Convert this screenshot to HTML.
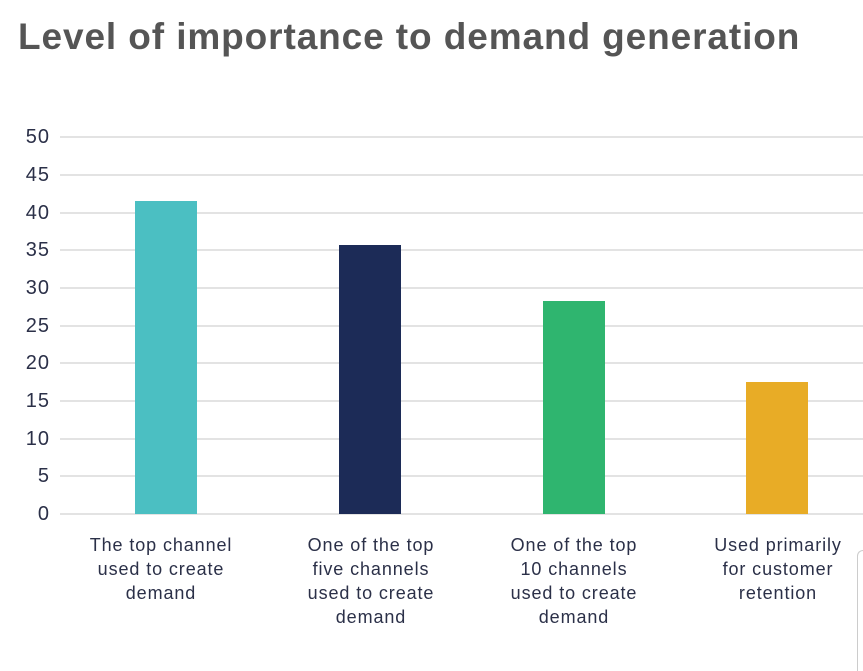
<!DOCTYPE html>
<html><head><style>
body{margin:0;width:863px;height:658px;background:#fff;position:relative;overflow:hidden;font-family:"Liberation Sans",sans-serif}
.t{position:absolute;left:18px;top:16px;font-size:37px;font-weight:bold;color:#555;letter-spacing:0.9px}
.g{position:absolute;left:60px;width:803px;height:2px;background:#e3e3e3}
.y{position:absolute;left:0;width:50px;text-align:right;font-size:20px;color:#2b3048;letter-spacing:1px}
.b{position:absolute;width:62px}
.l{position:absolute;width:200px;text-align:center;font-size:18px;line-height:24px;color:#2b3048;letter-spacing:0.9px}
</style></head><body>
<div class="t">Level of importance to demand generation</div>
<div class="g" style="top:136px"></div><div class="y" style="top:126px">50</div>
<div class="g" style="top:174px"></div><div class="y" style="top:164px">45</div>
<div class="g" style="top:212px"></div><div class="y" style="top:202px">40</div>
<div class="g" style="top:249px"></div><div class="y" style="top:239px">35</div>
<div class="g" style="top:287px"></div><div class="y" style="top:277px">30</div>
<div class="g" style="top:325px"></div><div class="y" style="top:315px">25</div>
<div class="g" style="top:362px"></div><div class="y" style="top:352px">20</div>
<div class="g" style="top:400px"></div><div class="y" style="top:390px">15</div>
<div class="g" style="top:438px"></div><div class="y" style="top:428px">10</div>
<div class="g" style="top:475px"></div><div class="y" style="top:465px">5</div>
<div class="g" style="top:513px"></div><div class="y" style="top:503px">0</div>
<div class="b" style="left:135px;top:201px;height:313px;background:#4bbfc2"></div>
<div class="b" style="left:339px;top:245px;height:269px;background:#1c2b57"></div>
<div class="b" style="left:543px;top:301px;height:213px;background:#2fb56f"></div>
<div class="b" style="left:746px;top:382px;height:132px;background:#e8ac26"></div>
<div class="l" style="left:61px;top:533px">The top channel<br>used to create<br>demand</div>
<div class="l" style="left:271px;top:533px">One of the top<br>five channels<br>used to create<br>demand</div>
<div class="l" style="left:474px;top:533px">One of the top<br>10 channels<br>used to create<br>demand</div>
<div class="l" style="left:678px;top:533px">Used primarily<br>for customer<br>retention</div>
<div style="position:absolute;left:857px;top:550px;width:10px;height:120px;border-left:1px solid #ccc;border-top:1px solid #ccc;border-radius:6px 0 0 0"></div>
</body></html>
